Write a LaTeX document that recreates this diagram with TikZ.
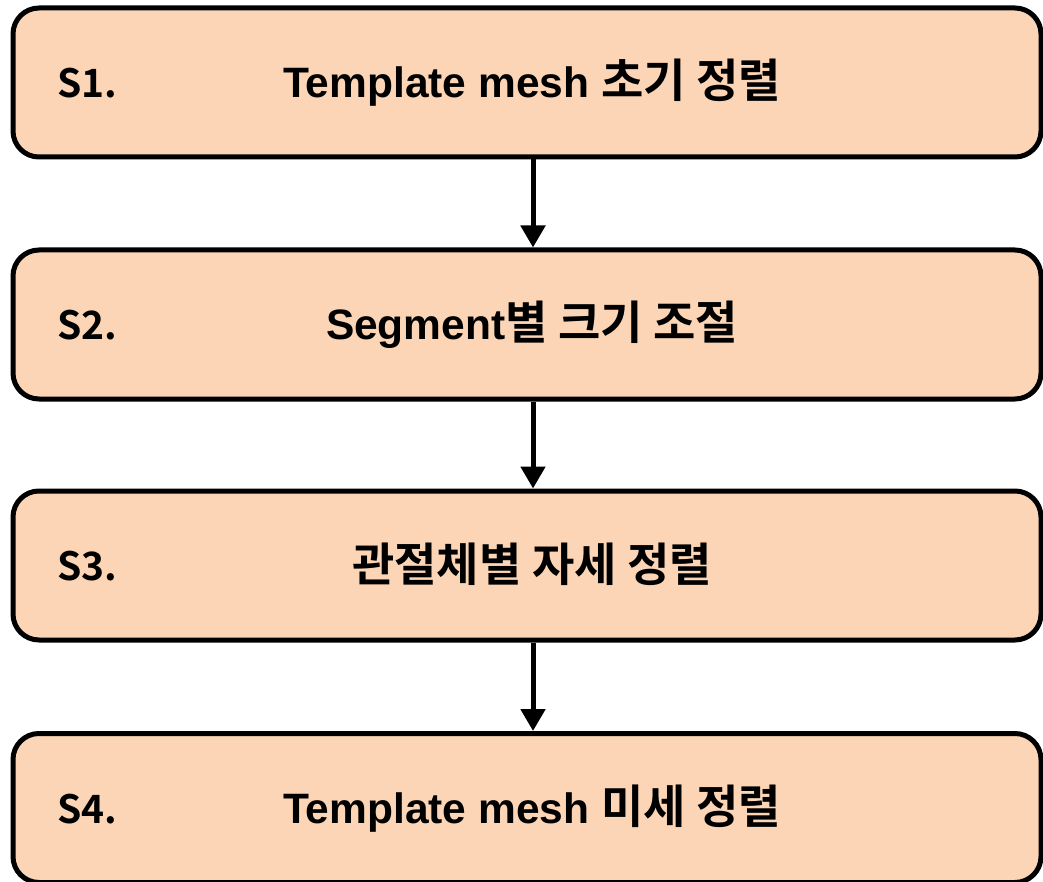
\documentclass[tikz,border=0pt]{standalone}
\usepackage{fontspec}
\usetikzlibrary{arrows.meta}
\newfontfamily\krb{Noto Sans CJK KR Bold}
\newfontfamily\arb{Liberation Sans Bold}
\newcommand\ko[1]{{\krb\fontsize{46}{50}\selectfont #1}}
\definecolor{boxfill}{HTML}{FBD5B5}
\begin{document}
\begin{tikzpicture}[x=1pt,y=-1pt,
  stepbox/.style={draw=black,line width=5pt,fill=boxfill,rounded corners=26pt,
    minimum width=1028pt,minimum height=149pt,inner sep=0pt},
  lbl/.style={font=\krb\fontsize{39}{44}\selectfont,anchor=base west,inner sep=0pt},
  ttl/.style={font=\arb\fontsize{42.5}{46}\selectfont,anchor=base,inner sep=0pt},
  flow/.style={line width=5pt,-{Triangle[length=22pt,width=24pt]}}]
\useasboundingbox (0,0) rectangle (1043,882);
\clip (0,0) rectangle (1043,882);
\node[stepbox] (b1) at (527,82.5) {};
\node[stepbox] (b2) at (527,324.5) {};
\node[stepbox] (b3) at (527,565.5) {};
\node[stepbox] (b4) at (527,808) {};
\node[lbl] (l1) at (57,97.5) {S1.};
\node[lbl] (l2) at (57,339.5) {S2.};
\node[lbl] (l3) at (57,580.5) {S3.};
\node[lbl] (l4) at (57,823) {S4.};
\node[ttl] (t1) at (532,97.5) {Template mesh \ko{초기 정렬}};
\node[ttl] (t2) at (532,339.5) {Segment\ko{별 크기 조절}};
\node[ttl] (t3) at (532,581.5) {\ko{관절체별 자세 정렬}};
\node[ttl] (t4) at (532,823) {Template mesh \ko{미세 정렬}};
\coordinate (ax) at (533,0);
\draw[flow] (b1.south -| ax) coordinate (a1) -- (a1 |- b2.north);
\draw[flow] (b2.south -| ax) coordinate (a2) -- (a2 |- b3.north);
\draw[flow] (b3.south -| ax) coordinate (a3) -- (a3 |- b4.north);
\end{tikzpicture}
\end{document}
